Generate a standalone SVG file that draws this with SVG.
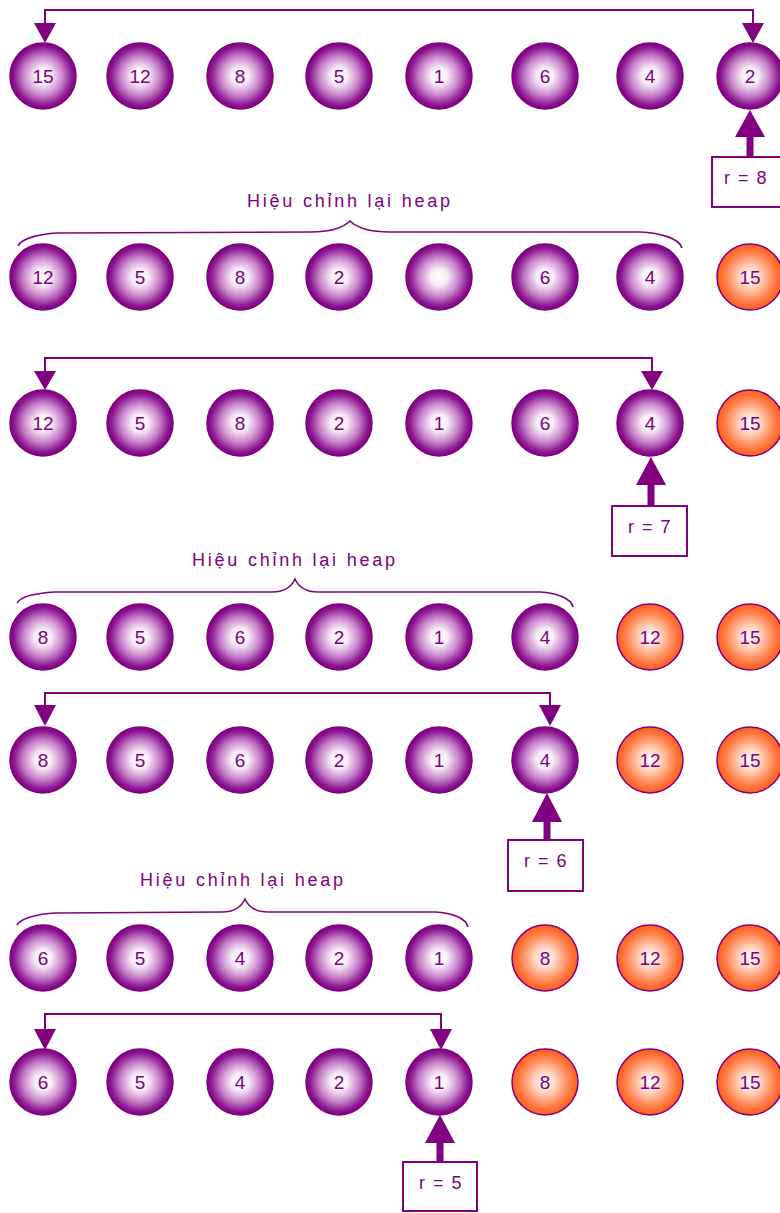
<svg xmlns="http://www.w3.org/2000/svg" width="780" height="1213" viewBox="0 0 780 1213">
<style>
.pc{fill:url(#gp);stroke:#800080;stroke-width:1.5}
.oc{fill:url(#go);stroke:#800080;stroke-width:1.5}
.num{font-family:"Liberation Sans",Arial,sans-serif;font-size:19px;fill:#800080;text-anchor:middle}
.ln{fill:none;stroke:#800080;stroke-width:2}
.br{fill:none;stroke:#800080;stroke-width:1.6}
.ah{fill:#800080}
.box{fill:#fff;stroke:#800080;stroke-width:2}
.bt{font-family:"Liberation Sans",Arial,sans-serif;font-size:18px;fill:#800080;text-anchor:middle;letter-spacing:1.5px}
.lb{font-family:"Liberation Sans",Arial,sans-serif;font-size:18px;fill:#800080}
</style>
<defs>
<radialGradient id="gp" cx="50%" cy="50%" r="50%">
<stop offset="0" stop-color="#ffffff"/>
<stop offset="0.25" stop-color="#f7edf7"/>
<stop offset="0.6" stop-color="#c782ca"/>
<stop offset="0.88" stop-color="#8b1891"/>
<stop offset="1" stop-color="#800080"/>
</radialGradient>
<radialGradient id="go" cx="50%" cy="50%" r="50%">
<stop offset="0" stop-color="#ffffff"/>
<stop offset="0.3" stop-color="#ffd9c6"/>
<stop offset="0.72" stop-color="#ff8550"/>
<stop offset="1" stop-color="#ff5a18"/>
</radialGradient>
</defs>

<g id="connectors">
<path class="ln" d="M45,23 V10 H753 V23"/>
<polygon class="ah" points="34,23 56,23 45,43"/>
<polygon class="ah" points="742,23 764,23 753,43"/>
<polygon class="ah" points="735,137 765,137 750,110"/>
<rect class="ah" x="746.5" y="136" width="7" height="21"/>

<path class="ln" d="M45,371 V358 H652 V371"/>
<polygon class="ah" points="34,371 56,371 45,390"/>
<polygon class="ah" points="641,371 663,371 652,390"/>
<polygon class="ah" points="636,485 666,485 651,457"/>
<rect class="ah" x="647.5" y="484" width="7" height="22"/>

<path class="ln" d="M45,705 V693 H550 V705"/>
<polygon class="ah" points="34,705 56,705 45,726"/>
<polygon class="ah" points="539,705 561,705 550,726"/>
<polygon class="ah" points="532,822 562,822 547,793"/>
<rect class="ah" x="543.5" y="821" width="7" height="19"/>

<path class="ln" d="M45,1029 V1014 H441 V1029"/>
<polygon class="ah" points="34,1029 56,1029 45,1050"/>
<polygon class="ah" points="430,1029 452,1029 441,1050"/>
<polygon class="ah" points="425,1143 455,1143 440,1115"/>
<rect class="ah" x="436.5" y="1142" width="7" height="20"/>
</g>

<g id="braces">
<path class="br" d="M18,246 C22,238 40,234 57,233 L310,232 C328,232 342,229 350,221 C358,229 372,232 390,232 L640,232 C660,233 679,238 682,248"/>
<text class="lb" x="247" y="207" textLength="203" lengthAdjust="spacing">Hiệu chỉnh lại heap</text>
<path class="br" d="M17,603 C21,596 38,593 55,592 L272,592 C284,592 291,588 295,579 C299,588 306,592 318,592 L540,592 C556,593 571,598 573,607"/>
<text class="lb" x="192" y="566" textLength="203" lengthAdjust="spacing">Hiệu chỉnh lại heap</text>
<path class="br" d="M17,925 C21,918 38,914 55,913 L222,912 C234,912 241,908 245,899 C249,908 256,912 268,912 L435,912 C452,913 466,918 468,927"/>
<text class="lb" x="140" y="886" textLength="203" lengthAdjust="spacing">Hiệu chỉnh lại heap</text>
</g>

<g id="boxes">
<g id="box-r8"><rect class="box" x="712" y="157" width="75" height="50"/><text class="bt" x="746" y="184">r = 8</text></g>
<g id="box-r7"><rect class="box" x="612" y="506" width="75" height="50"/><text class="bt" x="650" y="533">r = 7</text></g>
<g id="box-r6"><rect class="box" x="508" y="840" width="75" height="51"/><text class="bt" x="546" y="867">r = 6</text></g>
<g id="box-r5"><rect class="box" x="403" y="1162" width="74" height="49"/><text class="bt" x="441" y="1189">r = 5</text></g>
</g>

<g id="row1">
<g id="r1n1"><circle class="pc" cx="43" cy="76" r="33"/><text class="num" x="43" y="83">15</text></g>
<g id="r1n2"><circle class="pc" cx="140" cy="76" r="33"/><text class="num" x="140" y="83">12</text></g>
<g id="r1n3"><circle class="pc" cx="240" cy="76" r="33"/><text class="num" x="240" y="83">8</text></g>
<g id="r1n4"><circle class="pc" cx="339" cy="76" r="33"/><text class="num" x="339" y="83">5</text></g>
<g id="r1n5"><circle class="pc" cx="439" cy="76" r="33"/><text class="num" x="439" y="83">1</text></g>
<g id="r1n6"><circle class="pc" cx="545" cy="76" r="33"/><text class="num" x="545" y="83">6</text></g>
<g id="r1n7"><circle class="pc" cx="650" cy="76" r="33"/><text class="num" x="650" y="83">4</text></g>
<g id="r1n8"><circle class="pc" cx="750" cy="76" r="33"/><text class="num" x="750" y="83">2</text></g>
</g>

<g id="row2">
<g id="r2n1"><circle class="pc" cx="43" cy="277" r="33"/><text class="num" x="43" y="284">12</text></g>
<g id="r2n2"><circle class="pc" cx="140" cy="277" r="33"/><text class="num" x="140" y="284">5</text></g>
<g id="r2n3"><circle class="pc" cx="240" cy="277" r="33"/><text class="num" x="240" y="284">8</text></g>
<g id="r2n4"><circle class="pc" cx="339" cy="277" r="33"/><text class="num" x="339" y="284">2</text></g>
<g id="r2n5"><circle class="pc" cx="439" cy="277" r="33"/></g>
<g id="r2n6"><circle class="pc" cx="545" cy="277" r="33"/><text class="num" x="545" y="284">6</text></g>
<g id="r2n7"><circle class="pc" cx="650" cy="277" r="33"/><text class="num" x="650" y="284">4</text></g>
<g id="r2n8"><circle class="oc" cx="750" cy="277" r="33"/><text class="num" x="750" y="284">15</text></g>
</g>

<g id="row3">
<g id="r3n1"><circle class="pc" cx="43" cy="423" r="33"/><text class="num" x="43" y="430">12</text></g>
<g id="r3n2"><circle class="pc" cx="140" cy="423" r="33"/><text class="num" x="140" y="430">5</text></g>
<g id="r3n3"><circle class="pc" cx="240" cy="423" r="33"/><text class="num" x="240" y="430">8</text></g>
<g id="r3n4"><circle class="pc" cx="339" cy="423" r="33"/><text class="num" x="339" y="430">2</text></g>
<g id="r3n5"><circle class="pc" cx="439" cy="423" r="33"/><text class="num" x="439" y="430">1</text></g>
<g id="r3n6"><circle class="pc" cx="545" cy="423" r="33"/><text class="num" x="545" y="430">6</text></g>
<g id="r3n7"><circle class="pc" cx="650" cy="423" r="33"/><text class="num" x="650" y="430">4</text></g>
<g id="r3n8"><circle class="oc" cx="750" cy="423" r="33"/><text class="num" x="750" y="430">15</text></g>
</g>

<g id="row4">
<g id="r4n1"><circle class="pc" cx="43" cy="637" r="33"/><text class="num" x="43" y="644">8</text></g>
<g id="r4n2"><circle class="pc" cx="140" cy="637" r="33"/><text class="num" x="140" y="644">5</text></g>
<g id="r4n3"><circle class="pc" cx="240" cy="637" r="33"/><text class="num" x="240" y="644">6</text></g>
<g id="r4n4"><circle class="pc" cx="339" cy="637" r="33"/><text class="num" x="339" y="644">2</text></g>
<g id="r4n5"><circle class="pc" cx="439" cy="637" r="33"/><text class="num" x="439" y="644">1</text></g>
<g id="r4n6"><circle class="pc" cx="545" cy="637" r="33"/><text class="num" x="545" y="644">4</text></g>
<g id="r4n7"><circle class="oc" cx="650" cy="637" r="33"/><text class="num" x="650" y="644">12</text></g>
<g id="r4n8"><circle class="oc" cx="750" cy="637" r="33"/><text class="num" x="750" y="644">15</text></g>
</g>

<g id="row5">
<g id="r5n1"><circle class="pc" cx="43" cy="760" r="33"/><text class="num" x="43" y="767">8</text></g>
<g id="r5n2"><circle class="pc" cx="140" cy="760" r="33"/><text class="num" x="140" y="767">5</text></g>
<g id="r5n3"><circle class="pc" cx="240" cy="760" r="33"/><text class="num" x="240" y="767">6</text></g>
<g id="r5n4"><circle class="pc" cx="339" cy="760" r="33"/><text class="num" x="339" y="767">2</text></g>
<g id="r5n5"><circle class="pc" cx="439" cy="760" r="33"/><text class="num" x="439" y="767">1</text></g>
<g id="r5n6"><circle class="pc" cx="545" cy="760" r="33"/><text class="num" x="545" y="767">4</text></g>
<g id="r5n7"><circle class="oc" cx="650" cy="760" r="33"/><text class="num" x="650" y="767">12</text></g>
<g id="r5n8"><circle class="oc" cx="750" cy="760" r="33"/><text class="num" x="750" y="767">15</text></g>
</g>

<g id="row6">
<g id="r6n1"><circle class="pc" cx="43" cy="958" r="33"/><text class="num" x="43" y="965">6</text></g>
<g id="r6n2"><circle class="pc" cx="140" cy="958" r="33"/><text class="num" x="140" y="965">5</text></g>
<g id="r6n3"><circle class="pc" cx="240" cy="958" r="33"/><text class="num" x="240" y="965">4</text></g>
<g id="r6n4"><circle class="pc" cx="339" cy="958" r="33"/><text class="num" x="339" y="965">2</text></g>
<g id="r6n5"><circle class="pc" cx="439" cy="958" r="33"/><text class="num" x="439" y="965">1</text></g>
<g id="r6n6"><circle class="oc" cx="545" cy="958" r="33"/><text class="num" x="545" y="965">8</text></g>
<g id="r6n7"><circle class="oc" cx="650" cy="958" r="33"/><text class="num" x="650" y="965">12</text></g>
<g id="r6n8"><circle class="oc" cx="750" cy="958" r="33"/><text class="num" x="750" y="965">15</text></g>
</g>

<g id="row7">
<g id="r7n1"><circle class="pc" cx="43" cy="1082" r="33"/><text class="num" x="43" y="1089">6</text></g>
<g id="r7n2"><circle class="pc" cx="140" cy="1082" r="33"/><text class="num" x="140" y="1089">5</text></g>
<g id="r7n3"><circle class="pc" cx="240" cy="1082" r="33"/><text class="num" x="240" y="1089">4</text></g>
<g id="r7n4"><circle class="pc" cx="339" cy="1082" r="33"/><text class="num" x="339" y="1089">2</text></g>
<g id="r7n5"><circle class="pc" cx="439" cy="1082" r="33"/><text class="num" x="439" y="1089">1</text></g>
<g id="r7n6"><circle class="oc" cx="545" cy="1082" r="33"/><text class="num" x="545" y="1089">8</text></g>
<g id="r7n7"><circle class="oc" cx="650" cy="1082" r="33"/><text class="num" x="650" y="1089">12</text></g>
<g id="r7n8"><circle class="oc" cx="750" cy="1082" r="33"/><text class="num" x="750" y="1089">15</text></g>
</g>
</svg>
